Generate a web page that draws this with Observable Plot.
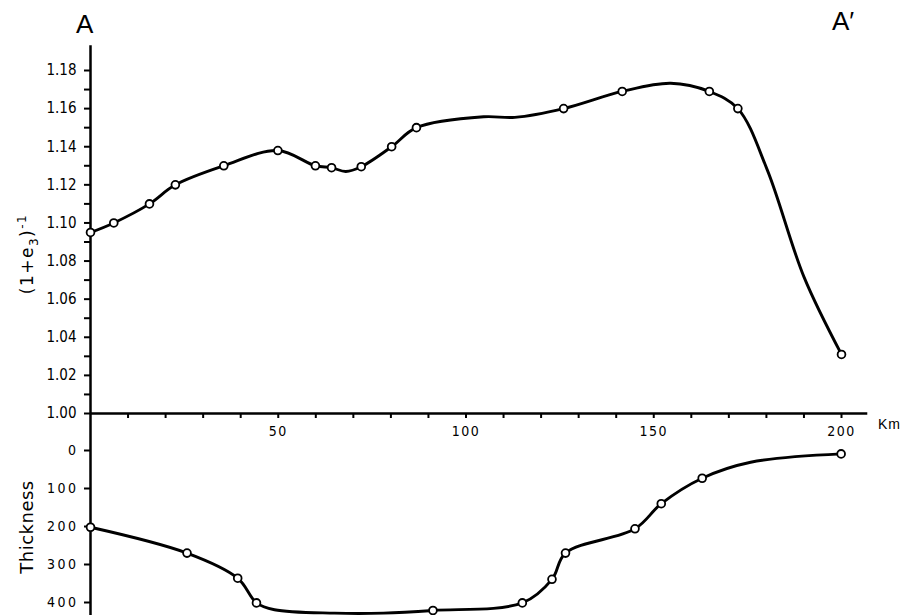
<!DOCTYPE html>
<html><head><meta charset="utf-8">
<script src="https://cdn.jsdelivr.net/npm/d3@7"></script>
<script src="https://cdn.jsdelivr.net/npm/@observablehq/plot@0.6"></script>
<style>
body{margin:0;background:#fff;}
#wrap{position:relative;width:903px;height:615px;overflow:hidden;background:#fff;font-family:"DejaVu Sans",sans-serif;color:#000}
#top,#bot{position:absolute;left:0}
#top{top:0}
#bot{top:405px}
.lbl{position:absolute;white-space:nowrap;line-height:1}
.rot{transform:translate(-50%,-50%) rotate(-90deg)}
#bot g[aria-label="y-axis tick label"] text{letter-spacing:2.5px}
#top g[aria-label="x-axis tick label"] text{letter-spacing:1.5px}
</style></head>
<body><div id="wrap">
<div id="top"></div><div id="bot"></div>
<div class="lbl" style="left:76px;top:11px;font-size:26px;font-family:'Liberation Sans',sans-serif">A</div>
<div class="lbl" style="left:832px;top:8px;font-size:26px;font-family:'Liberation Sans',sans-serif">A′</div>
<div class="lbl" style="left:878px;top:417px;font-size:14px;letter-spacing:1px;font-family:'Liberation Sans',sans-serif">Km</div>
<div class="lbl rot" style="left:28px;top:254px;font-size:17px;letter-spacing:1.5px;font-family:'DejaVu Sans',sans-serif">(1+e<sub style="font-size:12px">3</sub>)<sup style="font-size:12px">-1</sup></div>
<div class="lbl rot" style="left:27px;top:527px;font-size:18px;letter-spacing:0.5px;font-family:'DejaVu Sans',sans-serif">Thickness</div>
</div>
<script>
// Top panel: (1+e3)^-1 along profile A–A' (km)
const topKm    = [0, 6.2, 15.7, 22.6, 35.5, 49.9, 59.9, 64.2, 72.1, 80.2, 86.8, 126, 141.6, 164.8, 172.4, 200];
const topValue = [1.095, 1.100, 1.110, 1.120, 1.130, 1.138, 1.130, 1.129, 1.1295, 1.140, 1.150, 1.160, 1.169, 1.169, 1.160, 1.031];
// unmarked points where the drawn curve bends between the circles
const topCurveKm    = [68, 104.7, 113, 154.5, 180.2, 190];
const topCurveValue = [1.127, 1.1557, 1.1554, 1.1733, 1.128, 1.0717];

// Bottom panel: thickness
const botKm    = [0, 25.7, 39.2, 44.2, 91.2, 115, 122.9, 126.5, 145, 152, 162.9, 199.9];
const botThick = [202, 270, 336, 401, 421, 401, 339, 270, 206, 140, 73, 9];
const botCurveKm    = [49, 65, 78, 175.8];
const botCurveThick = [419, 428, 428, 31];

// axis ticks
const topMajorTicks = [1.00, 1.02, 1.04, 1.06, 1.08, 1.10, 1.12, 1.14, 1.16, 1.18];
const topMinorTicks = [1.01, 1.03, 1.05, 1.07, 1.09, 1.11, 1.13, 1.15, 1.17];
const kmTicks = [10, 20, 30, 40, 50, 60, 70, 80, 90, 100, 110, 120, 130, 140, 150, 160, 170, 180, 190, 200];
const kmLabelled = [50, 100, 150, 200];
const thickTicks = [0, 100, 200, 300, 400];

const topPts = topKm.map((k, i) => ({km: k, v: topValue[i]}));
const topLine = topPts.concat(topCurveKm.map((k, i) => ({km: k, v: topCurveValue[i]}))).sort((a, b) => a.km - b.km);
const botPts = botKm.map((k, i) => ({km: k, t: botThick[i]}));
const botLine = botPts.concat(botCurveKm.map((k, i) => ({km: k, t: botCurveThick[i]}))).sort((a, b) => a.km - b.km);

const tickFont = "'DejaVu Sans Condensed','Liberation Sans Narrow',sans-serif";

const topPlot = Plot.plot({
  width: 903, height: 445,
  marginLeft: 90, marginRight: 62, marginTop: 70, marginBottom: 32,
  style: {background: "transparent", fontFamily: tickFont, fontSize: "15px", color: "#000"},
  x: {domain: [0, 200]},
  y: {domain: [1.0, 1.18]},
  marks: [
    Plot.ruleX([0], {y1: 1.0, y2: 1.193, strokeWidth: 2.5}),
    Plot.ruleY([1.0], {x1: 0, x2: 207, strokeWidth: 2.5}),
    Plot.axisY(topMajorTicks, {tickSize: 6, tickPadding: 8, strokeWidth: 2, tickFormat: d3.format(".2f"), fontSize: 15, label: null}),
    Plot.axisY(topMinorTicks, {tickSize: 6, strokeWidth: 2, tickFormat: () => "", label: null}),
    Plot.axisX(kmTicks, {tickSize: 5, tickPadding: 8, strokeWidth: 2, tickFormat: d => kmLabelled.includes(d) ? d : "", fontSize: 14, label: null}),
    Plot.line(topLine, {x: "km", y: "v", curve: "catmull-rom", strokeWidth: 2.9, stroke: "#000"}),
    Plot.dot(topPts, {x: "km", y: "v", r: 3.9, fill: "#fff", stroke: "#000", strokeWidth: 1.8})
  ]
});
document.getElementById("top").appendChild(topPlot);

const botPlot = Plot.plot({
  width: 903, height: 210,
  marginLeft: 90, marginRight: 62, marginTop: 45, marginBottom: 13,
  style: {background: "transparent", fontFamily: tickFont, fontSize: "14px", color: "#000"},
  x: {domain: [0, 200], axis: null},
  y: {domain: [0, 400], reverse: true},
  marks: [
    Plot.ruleX([0], {y1: -97, y2: 440, strokeWidth: 2.5}),
    Plot.axisY(thickTicks, {tickSize: 6, tickPadding: 6, strokeWidth: 2, fontSize: 14, label: null}),
    Plot.line(botLine, {x: "km", y: "t", curve: "catmull-rom", strokeWidth: 2.9, stroke: "#000"}),
    Plot.dot(botPts, {x: "km", y: "t", r: 3.9, fill: "#fff", stroke: "#000", strokeWidth: 1.8})
  ]
});
document.getElementById("bot").appendChild(botPlot);
</script>
</body></html>
